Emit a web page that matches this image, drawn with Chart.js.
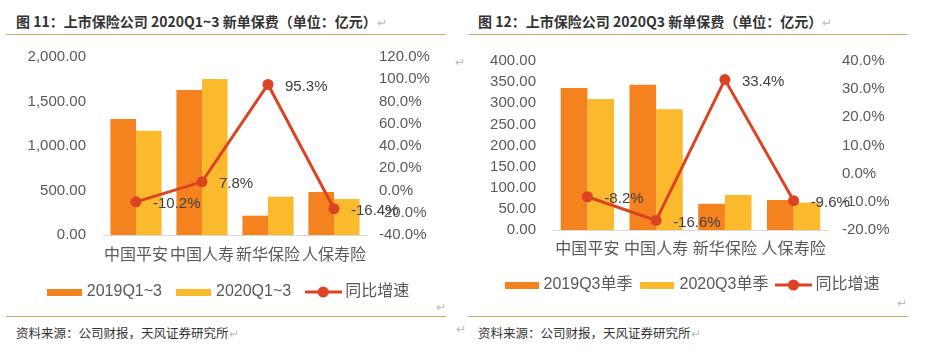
<!DOCTYPE html>
<html><head><meta charset="utf-8">
<script src="https://cdn.jsdelivr.net/npm/chart.js@4/dist/chart.umd.min.js"></script>
<style>
html,body{margin:0;padding:0;background:#fff;width:927px;height:356px;overflow:hidden;position:relative;font-family:"Liberation Sans","Noto Sans CJK SC",sans-serif;}
.title{position:absolute;top:11px;font-family:"Noto Sans CJK SC",sans-serif;font-weight:bold;font-size:14px;color:#333;white-space:nowrap;}
.src{position:absolute;top:323px;font-family:"Noto Sans CJK SC",sans-serif;font-size:12.5px;color:#333;white-space:nowrap;}
.rule{position:absolute;height:1px;background:#D9A25E;}
.pm{color:#bbb;font-weight:normal;font-size:12px;}
.mk{position:absolute;color:#bbb;font-size:12px;font-family:"DejaVu Sans",sans-serif;}
.cv{position:absolute;}
</style></head><body>
<div class="title" style="left:16px">图 11：上市保险公司 2020Q1~3 新单保费（单位：亿元）<span class="pm">↵</span></div>
<div class="title" style="left:478px">图 12：上市保险公司 2020Q3 新单保费（单位：亿元）<span class="pm">↵</span></div>
<div class="rule" style="left:6px;top:34px;width:440px"></div>
<div class="rule" style="left:468px;top:34px;width:440px"></div>
<div class="rule" style="left:6px;top:316px;width:440px"></div>
<div class="rule" style="left:468px;top:316px;width:440px"></div>
<div class="src" style="left:16px">资料来源：公司财报，天风证券研究所<span class="pm">↵</span></div>
<div class="src" style="left:478px">资料来源：公司财报，天风证券研究所<span class="pm">↵</span></div>
<div class="mk" style="left:455px;top:55px">↵</div>
<div class="mk" style="left:436px;top:300px">↵</div>
<div class="mk" style="left:897px;top:296px">↵</div>
<div class="mk" style="left:456px;top:322px">↵</div>
<div class="cv" style="left:0;top:40px;width:460px;height:270px"><canvas id="c1"></canvas></div>
<div class="cv" style="left:460px;top:40px;width:467px;height:263px"><canvas id="c2"></canvas></div>
<script>
// ---- data ----
const categories = ["中国平安", "中国人寿", "新华保险", "人保寿险"];
// chart 1: 2020Q1~3
const c1Labels = ["2019Q1~3", "2020Q1~3", "同比增速"];
const c1Prev = [1303, 1629, 217, 483];
const c1Curr = [1172, 1753, 430, 404];
const c1Growth = [-10.2, 7.8, 95.3, -16.4];
const c1LeftTicks = {min: 0, max: 2000, step: 500};
const c1RightTicks = {min: -40, max: 120, step: 20};
// chart 2: 2020Q3
const c2Labels = ["2019Q3单季", "2020Q3单季", "同比增速"];
const c2Prev = [336, 344, 62, 71];
const c2Curr = [310, 286, 83, 65];
const c2Growth = [-8.2, -16.6, 33.4, -9.6];
const c2LeftTicks = {min: 0, max: 400, step: 50};
const c2RightTicks = {min: -20, max: 40, step: 10};

const ORANGE = "#F4821F", YELLOW = "#FBB92D", RED = "#DC4322";
const TICK = "#595959";
const FONT = "'Liberation Sans','Noto Sans CJK SC',sans-serif";

function boxIcon(color, w, h) {
  const c = document.createElement("canvas"); c.width = w; c.height = h;
  const x = c.getContext("2d"); x.fillStyle = color; x.fillRect(0, 0, w, h); return c;
}
function lineIcon(color, w, h) {
  const c = document.createElement("canvas"); c.width = w; c.height = h;
  const x = c.getContext("2d"); x.strokeStyle = color; x.lineWidth = 3;
  x.beginPath(); x.moveTo(0, h / 2); x.lineTo(w, h / 2); x.stroke();
  x.fillStyle = color; x.beginPath(); x.arc(w / 2, h / 2, 5.5, 0, Math.PI * 2); x.fill(); return c;
}

const valueLabels = {
  id: "valueLabels",
  afterDatasetsDraw(chart) {
    const ctx = chart.ctx;
    chart.data.datasets.forEach((ds, i) => {
      if (ds.type !== "line") return;
      const meta = chart.getDatasetMeta(i);
      ctx.save();
      ctx.font = "15px " + FONT; ctx.fillStyle = "#404040";
      ctx.textAlign = "left"; ctx.textBaseline = "middle";
      meta.data.forEach((el, j) => {
        ctx.fillText(ds.data[j].toFixed(1) + "%", el.x + 17, el.y + 2);
      });
      ctx.restore();
    });
  }
};

function makeChart(id, labels, prev, curr, growth, lt, rt, cfg) {
  const icons = [boxIcon(ORANGE, cfg.boxW, 7), boxIcon(YELLOW, cfg.boxW, 7), lineIcon(RED, 37, 12)];
  new Chart(document.getElementById(id), {
    data: {
      labels: categories,
      datasets: [
        {type: "bar", label: labels[0], data: prev, backgroundColor: ORANGE, yAxisID: "y", order: 1,
         categoryPercentage: 0.775, barPercentage: 1.0},
        {type: "bar", label: labels[1], data: curr, backgroundColor: YELLOW, yAxisID: "y", order: 1,
         categoryPercentage: 0.775, barPercentage: 1.0},
        {type: "line", label: labels[2], data: growth, borderColor: RED, backgroundColor: RED, borderWidth: 3,
         pointRadius: 5.5, pointBackgroundColor: RED, pointBorderWidth: 0, yAxisID: "y1", order: 0, tension: 0}
      ]
    },
    options: {
      responsive: true, maintainAspectRatio: false, animation: false,
      layout: {padding: {top: cfg.top, left: 0, right: 0, bottom: 0}},
      plugins: {
        tooltip: {enabled: false},
        legend: {
          position: "bottom",
          labels: {
            usePointStyle: true, pointStyleWidth: 28, boxHeight: 12, padding: cfg.legPad,
            font: {size: 16, family: FONT}, color: TICK,
            generateLabels: (chart) => chart.data.datasets.map((ds, i) => ({
              text: ds.label, pointStyle: icons[i], fillStyle: "rgba(0,0,0,0)", strokeStyle: "rgba(0,0,0,0)",
              lineWidth: 0, hidden: false, datasetIndex: i, fontColor: TICK
            }))
          }
        }
      },
      scales: {
        x: {
          grid: {display: false, drawTicks: false},
          border: {display: true, color: "#D9D9D9", width: 1},
          ticks: {color: TICK, font: {size: 16, family: FONT}, padding: cfg.xPad, maxRotation: 0, autoSkip: false},
          afterFit: s => { s.height = cfg.xH; }
        },
        y: {
          position: "left", min: lt.min, max: lt.max,
          grid: {display: false, drawTicks: false}, border: {display: false},
          ticks: {stepSize: lt.step, autoSkip: false, color: TICK, font: {size: 15, family: FONT}, padding: 17,
                  callback: v => v.toLocaleString("en-US", {minimumFractionDigits: 2, maximumFractionDigits: 2})},
          afterFit: s => { s.width = cfg.lw; s.paddingTop = 0; s.paddingBottom = 0; }
        },
        y1: {
          position: "right", min: rt.min, max: rt.max,
          grid: {display: false, drawTicks: false}, border: {display: false},
          ticks: {stepSize: rt.step, autoSkip: false, color: TICK, font: {size: 15, family: FONT}, padding: cfg.rPad,
                  callback: v => v.toFixed(1) + "%"},
          afterFit: s => { s.width = cfg.rw; s.paddingTop = 0; s.paddingBottom = 0; }
        }
      }
    },
    plugins: [valueLabels]
  });
}

makeChart("c1", c1Labels, c1Prev, c1Curr, c1Growth, c1LeftTicks, c1RightTicks,
  {top: 17, xH: 31, xPad: 11, lw: 103, rw: 93, rPad: 12, legPad: 18, boxW: 35});
makeChart("c2", c2Labels, c2Prev, c2Curr, c2Growth, c2LeftTicks, c2RightTicks,
  {top: 21, xH: 36, xPad: 10, lw: 93, rw: 99, rPad: 14, legPad: 11, boxW: 34});
</script>
</body></html>
